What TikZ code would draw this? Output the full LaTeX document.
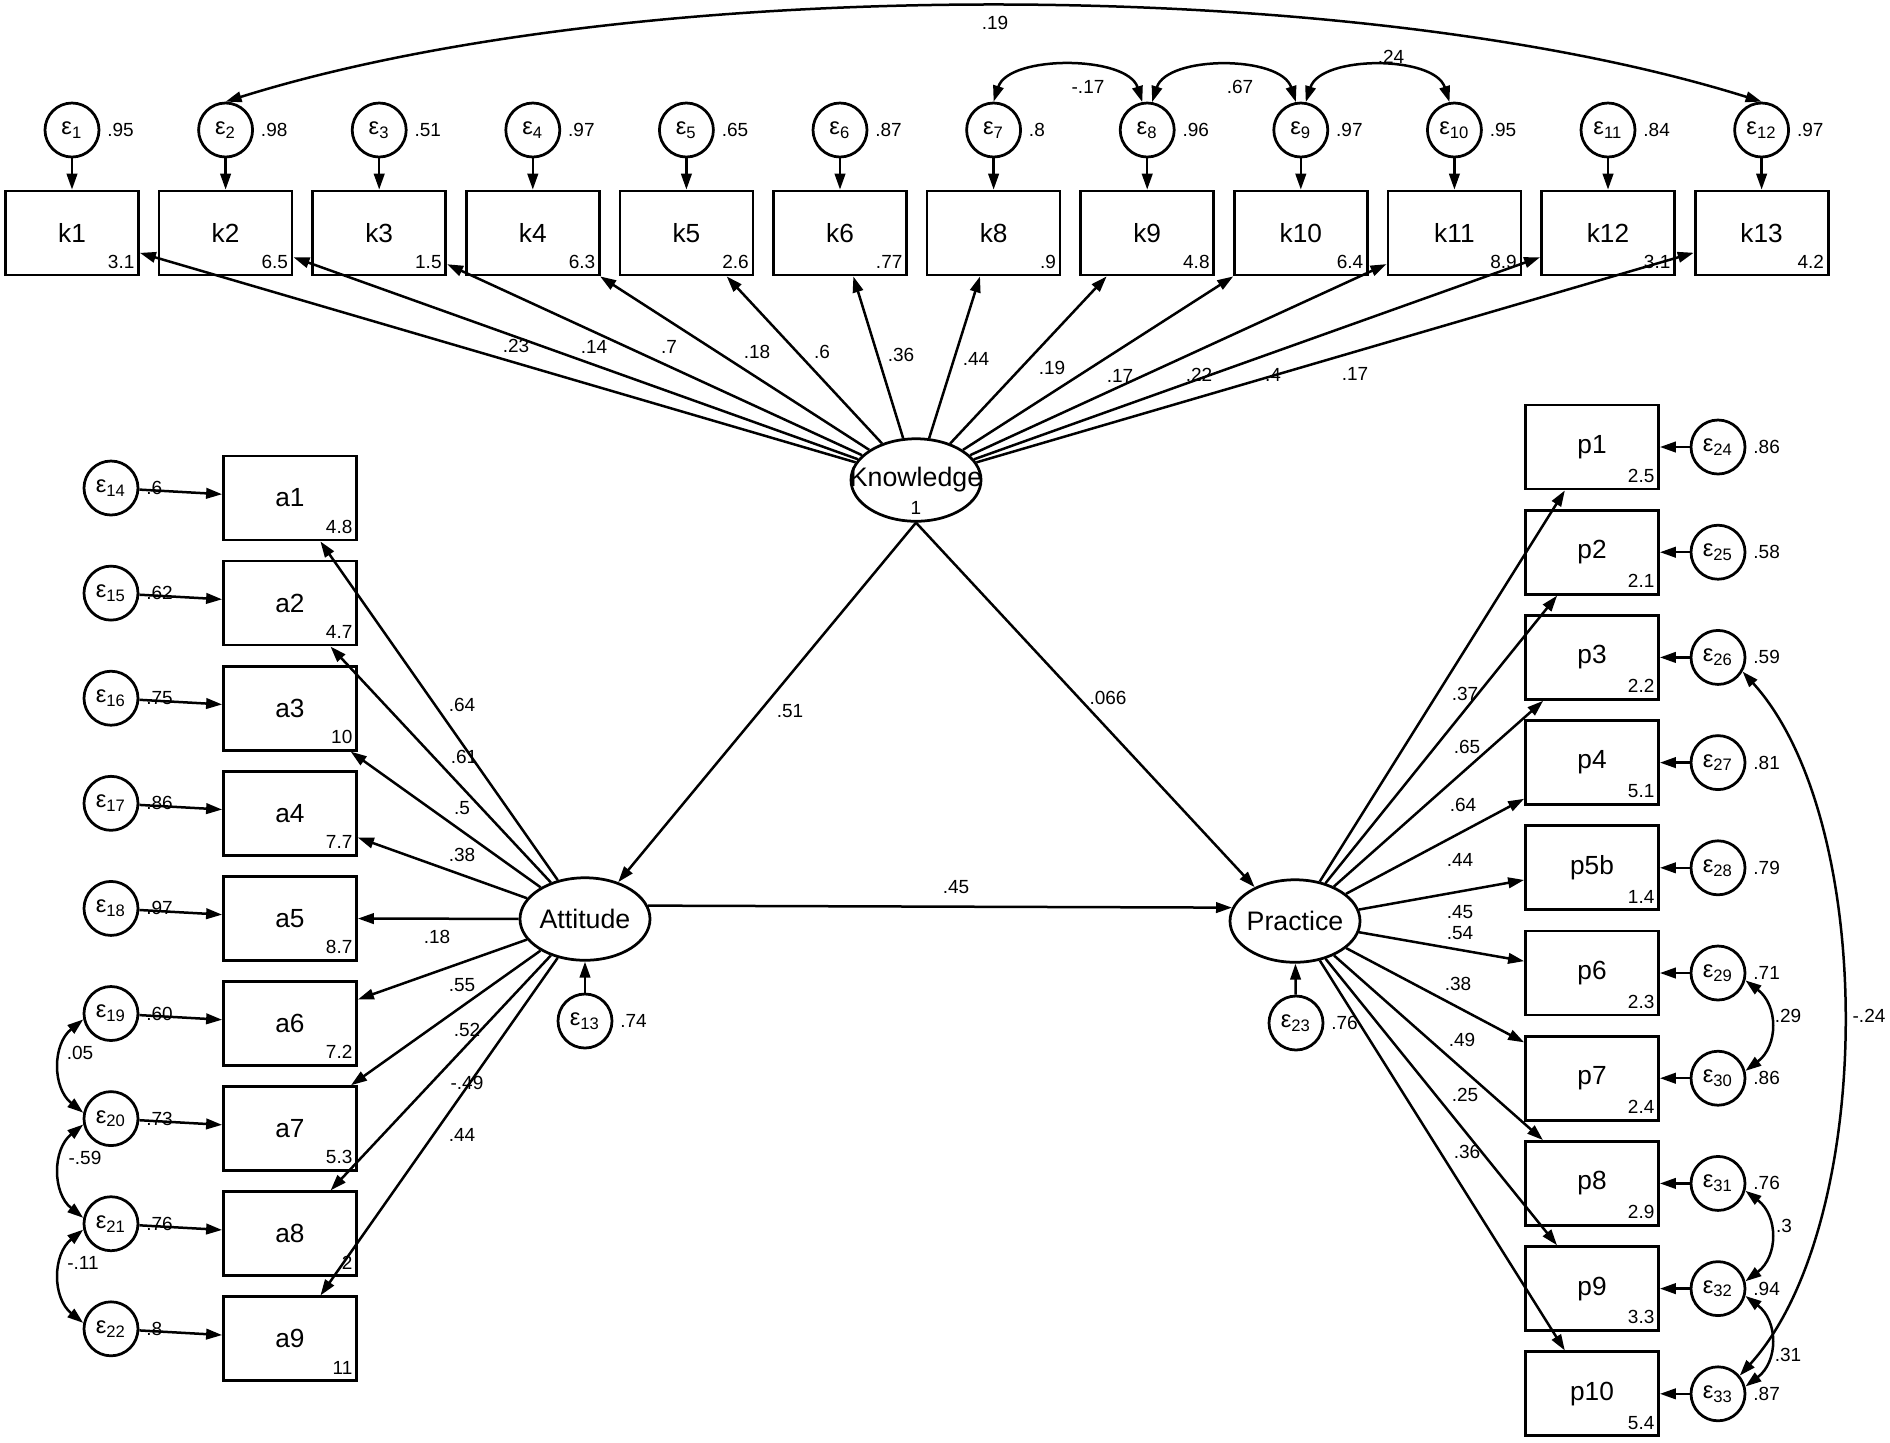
\documentclass[tikz,border=0pt]{standalone}
\usepackage{fontspec}
\setmainfont{Liberation Sans}
\usetikzlibrary{arrows.meta,shapes.geometric}
\tikzset{
  obs/.style={draw, rectangle, line width=1.1pt, minimum width=53.2pt, minimum height=33.6pt, inner sep=0pt, font=\fontsize{10.5}{12}\selectfont},
  lat/.style={draw, ellipse, line width=1.1pt, minimum width=52pt, minimum height=33pt, inner sep=0pt},
  lattxt/.style={inner sep=0pt, font=\fontsize{10.7}{12}\selectfont},
  err/.style={draw, circle, line width=1.1pt, minimum size=21.6pt, inner sep=0pt, font=\fontsize{9.5}{10}\selectfont},
  num/.style={font=\fontsize{7.6}{9}\selectfont, inner sep=0pt},
  icpt/.style={num, anchor=south east, xshift=-2pt, yshift=3pt},
  varl/.style={num, anchor=west, xshift=2.6pt},
  pth/.style={line width=1pt, -{Triangle[length=6.4pt,width=4.2pt]}},
  cov/.style={line width=1pt, {Triangle[length=6.4pt,width=4.2pt]}-{Triangle[length=6.4pt,width=4.2pt]}},
}
\begin{document}
\begin{tikzpicture}[x=0.4pt,y=-0.4pt]
\useasboundingbox (0,0) rectangle (1890,1442);

% latent variables
\node[lat] (K) at (916,480) {};
\node[lattxt] (Ktxt) at (916,480) {Knowledge};
\node[num] (Kvar) at (916,508) {1};
\node[lat] (A) at (585,919) {};
\node[lattxt] (Atxt) at (585,919) {Attitude};
\node[lat] (P) at (1295,921) {};
\node[lattxt] (Ptxt) at (1295,921) {Practice};

% knowledge items
\foreach \n/\lab/\ic/\vr in {1/k1/3.1/.95, 2/k2/6.5/.98, 3/k3/1.5/.51, 4/k4/6.3/.97, 5/k5/2.6/.65, 6/k6/.77/.87, 7/k8/.9/.8, 8/k9/4.8/.96, 9/k10/6.4/.97, 10/k11/8.9/.95, 11/k12/3.1/.84, 12/k13/4.2/.97}{
  \node[obs] (\lab) at ({72+153.6*(\n-1)},233) {\lab};
  \node[icpt] (ic\lab) at (\lab.south east) {\ic};
  \node[err] (e\n) at ({72+153.6*(\n-1)},130) {ε\textsubscript{\n}};
  \node[varl] (v\n) at (e\n.east) {\vr};
  \draw[pth] (e\n) -- (\lab);
  \draw[pth] (K) -- (\lab);
}

% attitude items
\foreach \n/\ic/\vr in {1/4.8/.6, 2/4.7/.62, 3/10/.75, 4/7.7/.86, 5/8.7/.97, 6/7.2/.60, 7/5.3/.73, 8/2/.76, 9/11/.8}{
  \pgfmathsetmacro{\yy}{498+105.1*(\n-1)}
  \pgfmathtruncatemacro{\ee}{13+\n}
  \node[obs] (a\n) at (290,\yy) {a\n};
  \node[icpt] (ica\n) at (a\n.south east) {\ic};
  \node[err] (e\ee) at (111,{\yy-10}) {ε\textsubscript{\ee}};
  \node[varl] (v\ee) at (e\ee.east) {\vr};
  \draw[pth] (e\ee) -- (a\n);
  \draw[pth] (A) -- (a\n);
}

% practice items
\foreach \n/\lab/\ic/\vr in {1/p1/2.5/.86, 2/p2/2.1/.58, 3/p3/2.2/.59, 4/p4/5.1/.81, 5/p5b/1.4/.79, 6/p6/2.3/.71, 7/p7/2.4/.86, 8/p8/2.9/.76, 9/p9/3.3/.94, 10/p10/5.4/.87}{
  \pgfmathsetmacro{\yy}{447+105.2*(\n-1)}
  \pgfmathtruncatemacro{\ee}{23+\n}
  \node[obs] (\lab) at (1592,\yy) {\lab};
  \node[icpt] (ic\lab) at (\lab.south east) {\ic};
  \node[err] (e\ee) at (1718,\yy) {ε\textsubscript{\ee}};
  \node[varl] (v\ee) at (e\ee.east) {\vr};
  \draw[pth] (e\ee) -- (\lab);
  \draw[pth] (P) -- (\lab);
}

% structural errors
\node[err] (e13) at (585,1021) {ε\textsubscript{13}};
\node[varl] (v13) at (e13.east) {.74};
\node[err] (e23) at (1296,1023) {ε\textsubscript{23}};
\node[varl] (v23) at (e23.east) {.76};
\draw[pth] (e13) -- (A);
\draw[pth] (e23) -- (P);

% structural paths
\draw[pth] (K.south) -- (A.48);
\draw[pth] (K.south) -- (P.140);
\draw[pth] (A.12) -- (P.168);

% covariances top
\draw[cov] (e2.north) .. controls +(409,-128) and +(-409,-128) .. (e12.north);
\draw[cov] (e7.north) .. controls +(15,-47) and +(-15,-47) .. (e8.100);
\draw[cov] (e8.80) .. controls +(15,-47) and +(-15,-47) .. (e9.100);
\draw[cov] (e9.80) .. controls +(15,-47) and +(-15,-47) .. (e10.100);
% covariances left
\draw[cov] (e19.192) .. controls +(-31,25) and +(-31,-25) .. (e20.168);
\draw[cov] (e20.192) .. controls +(-31,25) and +(-31,-25) .. (e21.168);
\draw[cov] (e21.192) .. controls +(-31,25) and +(-31,-25) .. (e22.168);
% covariances right
\draw[cov] (e29.345) .. controls +(33,25) and +(33,-25) .. (e30.15);
\draw[cov] (e31.345) .. controls +(33,25) and +(33,-25) .. (e32.15);
\draw[cov] (e32.345) .. controls +(33,25) and +(33,-25) .. (e33.15);
\draw[cov] (e26.330) .. controls +(136,150) and +(136,-150) .. (e33.40);

% knowledge loadings
\foreach \x/\y/\t [count=\i] in {516/346/.23, 594/347/.14, 669/347/.7, 757/352/.18, 822/352/.6, 901/355/.36, 976/359/.44, 1052/368/.19, 1120/376/.17, 1199/375/.22, 1273/375/.4, 1355/374/.17}
  \node[num] (lk\i) at (\x,\y) {\t};
% attitude loadings
\foreach \x/\y/\t [count=\i] in {462/705/.64, 464/757/.61, 462/808/.5, 462/855/.38, 437/937/.18, 462/985/.55, 467/1030/.52, 467/1083/-.49, 462/1135/.44}
  \node[num] (la\i) at (\x,\y) {\t};
% practice loadings
\foreach \x/\y/\t [count=\i] in {1465/694/.37, 1467/747/.65, 1463/805/.64, 1460/860/.44, 1460/912/.45, 1460/933/.54, 1458/984/.38, 1462/1040/.49, 1465/1095/.25, 1467/1152/.36}
  \node[num] (lp\i) at (\x,\y) {\t};
% structural labels
\node[num] (l51) at (790,711) {.51};
\node[num] (l066) at (1108,698) {.066};
\node[num] (l45) at (956,887) {.45};
% covariance labels
\node[num] (c1) at (995,23) {.19};
\node[num] (c2) at (1088,87) {-.17};
\node[num] (c3) at (1240,87) {.67};
\node[num] (c4) at (1391,57) {.24};
\node[num] (c5) at (80,1053) {.05};
\node[num] (c6) at (85,1158) {-.59};
\node[num] (c7) at (83,1263) {-.11};
\node[num] (c8) at (1788,1016) {.29};
\node[num] (c9) at (1784,1226) {.3};
\node[num] (c10) at (1788,1355) {.31};
\node[num] (c11) at (1869,1016) {-.24};
\end{tikzpicture}
\end{document}
